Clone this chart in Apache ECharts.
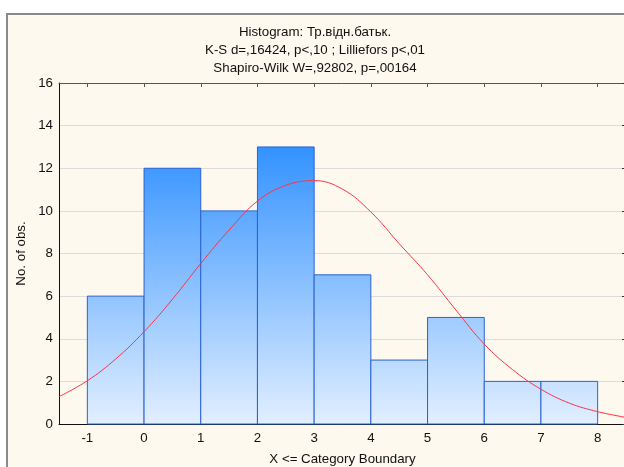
<!DOCTYPE html>
<html>
<head>
<meta charset="utf-8">
<script src="https://cdn.jsdelivr.net/npm/echarts@6/dist/echarts.min.js"></script>
<style>
    html, body { margin: 0; padding: 0; background: #fff; }
    #frame { position: absolute; left: 6px; top: 13px; width: 620px; height: 460px;
             background: #fef9ee; border-left: 2px solid #8a8a8a; border-top: 2px solid #8a8a8a; }
    #mainChart { position: absolute; left: 0; top: 0; width: 624px; height: 467px; }
</style>
</head>
<body>
<div id="frame"></div>
<div id="mainChart"></div>
<script>
// histogram bins (category boundaries) and counts
var binStart = [-1, 0, 1, 2, 3, 4, 5, 6, 7];
var binEnd = [0, 1, 2, 3, 4, 5, 6, 7, 8];
var counts = [6, 12, 10, 13, 7, 3, 5, 2, 2];
// expected normal curve
var curveX = [-1.5, -1, -0.5, 0, 0.5, 1, 1.5, 2, 2.5, 3, 3.5, 4, 4.5, 5, 5.5, 6, 6.5, 7, 7.5, 8, 8.5];
var curveY = [1.28, 2.03, 3.05, 4.33, 5.85, 7.53, 9.1, 10.46, 11.2, 11.42, 11.02, 9.95, 8.46, 7.0, 5.35, 3.75, 2.55, 1.63, 0.98, 0.58, 0.31];
var xTicks = [-1, 0, 1, 2, 3, 4, 5, 6, 7, 8];
var titleLines = ['Histogram: Тр.відн.батьк.', 'K-S d=,16424, p<,10 ; Lilliefors p<,01', 'Shapiro-Wilk W=,92802, p=,00164'];

var myChart = echarts.init(document.getElementById('mainChart'));
var font = 'Liberation Sans, Arial, sans-serif';

var barData = [];
for (var i = 0; i < counts.length; i++) {
    barData.push([binStart[i], binEnd[i], counts[i]]);
}
var lineData = [];
for (var j = 0; j < curveX.length; j++) {
    lineData.push([curveX[j], curveY[j]]);
}

var barFill = new echarts.graphic.LinearGradient(0, 147, 0, 424, [
    {offset: 0, color: '#3392ff'},
    {offset: 1, color: '#e2efff'}
], true);

var option = {
    backgroundColor: 'transparent',
    animation: false,
    title: {
        text: titleLines.join('\n'),
        left: 315,
        textAlign: 'center',
        top: 23,
        padding: 0,
        textStyle: {fontFamily: font, fontSize: 13.3, fontWeight: 'normal', color: '#111', lineHeight: 18}
    },
    grid: {left: 59, top: 83, width: 567, height: 341, containLabel: false, outerBoundsMode: 'none'},
    xAxis: [{
        type: 'value', min: -1.5, max: 8.5, position: 'bottom',
        name: 'X <= Category Boundary', nameLocation: 'middle', nameGap: 29,
        nameTextStyle: {fontFamily: font, fontSize: 13.3, color: '#111'},
        axisLine: {show: true, onZero: false, lineStyle: {color: '#111'}},
        axisTick: {show: false},
        splitLine: {show: false},
        axisLabel: {customValues: xTicks, margin: 8, fontFamily: font, fontSize: 13.3, color: '#111'}
    }, {
        type: 'value', min: -1.5, max: 8.5, position: 'top',
        axisLine: {show: true, onZero: false, lineStyle: {color: '#555'}},
        axisTick: {show: true, inside: true, length: 4, customValues: xTicks, lineStyle: {color: '#555'}},
        axisLabel: {show: false},
        splitLine: {show: false}
    }],
    yAxis: [{
        type: 'value', min: 0, max: 16, interval: 2, position: 'left',
        name: 'No. of obs.', nameLocation: 'middle', nameGap: 31, nameMoveOverlap: false,
        nameTextStyle: {fontFamily: font, fontSize: 13.3, color: '#111'},
        axisLine: {show: true, onZero: false, lineStyle: {color: '#111'}},
        axisTick: {show: false},
        axisLabel: {margin: 6, fontFamily: font, fontSize: 13.3, color: '#111'},
        splitLine: {show: true, lineStyle: {color: '#dcdcdc'}}
    }, {
        type: 'value', min: 0, max: 16, interval: 2, position: 'right',
        axisLine: {show: true, onZero: false, lineStyle: {color: '#333'}},
        axisTick: {show: true, inside: true, length: 4, lineStyle: {color: '#333'}},
        axisLabel: {show: false},
        splitLine: {show: false}
    }],
    series: [{
        type: 'custom',
        xAxisIndex: 0, yAxisIndex: 0,
        data: barData,
        renderItem: function (params, api) {
            var p0 = api.coord([api.value(0), api.value(2)]);
            var p1 = api.coord([api.value(1), 0]);
            return {
                type: 'rect',
                shape: {x: p0[0], y: p0[1], width: p1[0] - p0[0], height: p1[1] - p0[1]},
                style: {fill: barFill, stroke: '#2a62d2', lineWidth: 1}
            };
        },
        z: 2
    }, {
        type: 'line',
        xAxisIndex: 0, yAxisIndex: 0,
        data: lineData,
        smooth: 0.4,
        showSymbol: false,
        lineStyle: {color: '#ff3344', width: 1},
        z: 3
    }]
};
myChart.setOption(option);
</script>
</body>
</html>
